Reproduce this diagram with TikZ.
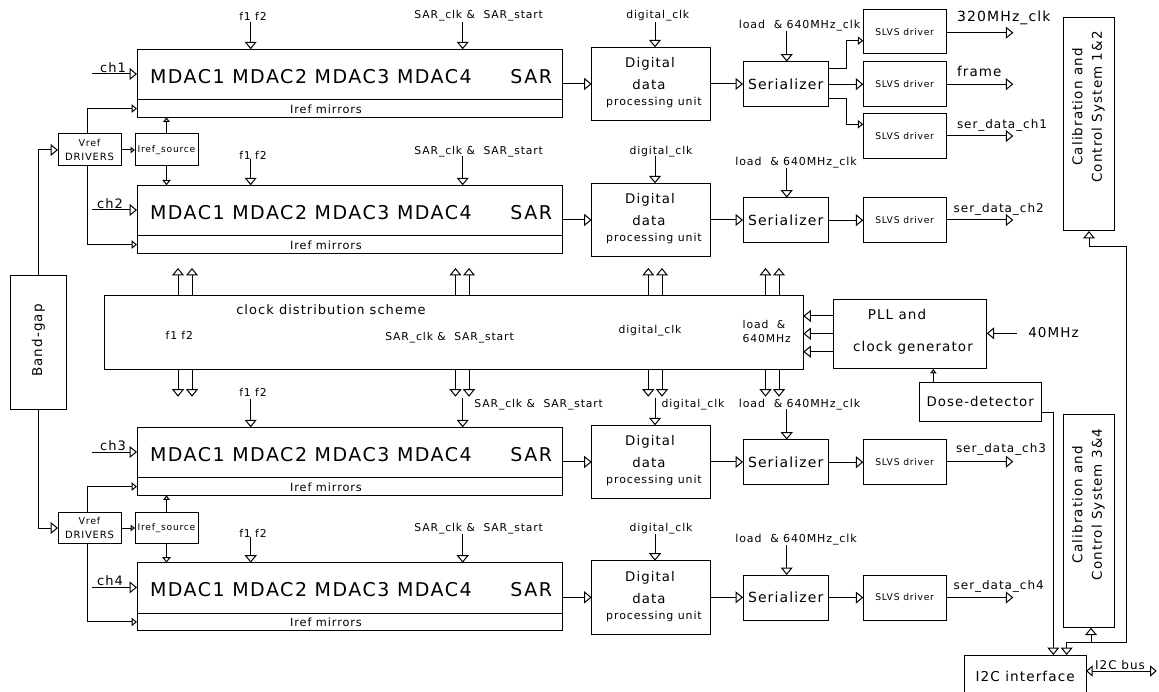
\documentclass[tikz,border=0pt]{standalone}
\usepackage{fontspec}
\setmainfont{DejaVu Sans}[LetterSpace=8]
\usetikzlibrary{arrows.meta}
\newcommand\fs[1]{\fontsize{#1}{#1}\selectfont}
\newcommand\mkbox[6]{\node[box, minimum width={((#4)-(#2))*1pt}, minimum height={((#5)-(#3))*1pt}] (#1) at ({#2},{#3}) {#6};}
\tikzset{
 box/.style={draw, line width=1pt, anchor=north west, inner sep=0pt, outer sep=0pt, align=center},
 ar/.style={line width=1pt, -{Triangle[open, width=12pt, length=7.5pt]}},
 mar/.style={line width=1pt, -{Triangle[open, width=8.5pt, length=5.5pt]}},
 sar/.style={line width=1pt, -{Triangle[open, width=6.5pt, length=4.5pt]}},
 lab/.style={font=\fs{10.8}},
}
% #1 id, #2 top of MDAC, #3 f1 start, #4 SAR start, #5 dig start, #6 load start
\newcommand\adcrow[6]{%
 \mkbox{m#1}{137}{#2}{562}{#2+50.5}{}
 \mkbox{s#1}{137}{#2+50.5}{562}{#2+68}{}
 \mkbox{d#1}{591.7}{#2-2}{710}{#2+71.3}{}
 \mkbox{z#1}{743}{#2+12.3}{828.3}{#2+57.5}{\fs{14}Serializer}
 \node[anchor=base west, font=\fs{19}] (mt#1) at (150,{#2+34}) {MDAC1 MDAC2 MDAC3 MDAC4};
 \node[anchor=base east, font=\fs{19}] (sr#1) at (552,{#2+34}) {SAR};
 \node[font=\fs{11.3}] (it#1) at (326,{#2+59.5}) {Iref mirrors};
 \node[font=\fs{13.3}] (dg#1) at (650,{#2+14.7}) {Digital};
 \node[font=\fs{13.3}] (dd#1) at (649,{#2+35.7}) {data};
 \node[font=\fs{11}] (dp#1) at (654,{#2+53.4}) {processing unit};
 \coordinate (ci#1) at (92,{#2+24.7});
 \draw[ar] (ci#1) -- (ci#1 -| m#1.west);
 \draw[ar] (m#1.east |- d#1.west) -- (d#1.west);
 \draw[ar] (d#1.east) -- (d#1.east -| z#1.west);
 \coordinate (fa#1) at (250.7,#3);
 \draw[ar] (fa#1) -- (fa#1 |- m#1.north);
 \coordinate (sa#1) at (462.7,#4);
 \draw[ar] (sa#1) -- (sa#1 |- m#1.north);
 \coordinate (ga#1) at (655,#5);
 \draw[ar] (ga#1) -- (ga#1 |- d#1.north);
 \coordinate (la#1) at (786.7,#6);
 \draw[ar] (la#1) -- (la#1 |- z#1.north);
}
\begin{document}
\begin{tikzpicture}[x=1pt,y=-1pt, every node/.style={inner sep=0pt, outer sep=0pt}]
\useasboundingbox[fill=white] (0,0) rectangle (1159,692);

\adcrow{1}{49.3}{21.7}{22}{22}{31}
\adcrow{2}{185.3}{159.3}{156}{156}{168}
\adcrow{3}{427.3}{399}{398}{398}{409}
\adcrow{4}{562.7}{536.7}{534}{534}{545}

% channel labels
\node[font=\fs{13}] (ch1) at (113,67.5) {ch1};
\node[font=\fs{13}] (ch2) at (110,203.3) {ch2};
\node[font=\fs{13}] (ch3) at (113,445.3) {ch3};
\node[font=\fs{13}] (ch4) at (110,581) {ch4};

% top labels
\node[lab] at (253,16) {f1 f2};
\node[lab] at (478.7,16) {SAR\_clk \&\ \ SAR\_start};
\node[lab] at (657.8,16) {digital\_clk};
\node[font=\fs{11}] at (799.5,26) {load\ \ \& 640MHz\_clk};

\node[lab] at (253,155) {f1 f2};
\node[lab] at (478.7,151.7) {SAR\_clk \&\ \ SAR\_start};
\node[lab] at (661,151.7) {digital\_clk};
\node[font=\fs{11}] at (796,162.3) {load\ \ \& 640MHz\_clk};

\node[lab] at (253,392.7) {f1 f2};
\node[lab] at (538.7,405) {SAR\_clk \&\ \ SAR\_start};
\node[lab] at (693,405) {digital\_clk};
\node[font=\fs{11}] at (799.5,404.3) {load\ \ \& 640MHz\_clk};

\node[lab] at (253,533.3) {f1 f2};
\node[lab] at (478.7,529) {SAR\_clk \&\ \ SAR\_start};
\node[lab] at (661,529) {digital\_clk};
\node[font=\fs{11}] at (796,540) {load\ \ \& 640MHz\_clk};

% SLVS drivers row 1
\mkbox{va1}{863.3}{9.3}{946}{54}{\fs{9.2}SLVS driver}
\mkbox{vb1}{863.3}{61.7}{946}{106.7}{\fs{9.2}SLVS driver}
\mkbox{vc1}{863.3}{113.3}{946}{158.3}{\fs{9.2}SLVS driver}
\coordinate (j1) at (846,68.3); \coordinate (j1b) at (863.3,40.7);
\coordinate (j2) at (846,99); \coordinate (j2b) at (863.3,124.3);
\draw[mar] (z1.east |- j1) -- (j1) |- (j1b);
\draw[ar] (z1.east) -- (z1.east -| vb1.west);
\draw[mar] (z1.east |- j2) -- (j2) |- (j2b);
\coordinate (oa) at (1013.3,32.7);
\coordinate (ob) at (1013.3,84.2);
\coordinate (oc) at (1013.3,136);
\draw[ar] (va1.east |- oa) -- (oa);
\draw[ar] (vb1.east |- ob) -- (ob);
\draw[ar] (vc1.east |- oc) -- (oc);
\node[font=\fs{14}] at (1003.8,18.3) {320MHz\_clk};
\node[font=\fs{13.5}] at (979.3,71) {frame};
\node[font=\fs{12}] at (1002,125) {ser\_data\_ch1};

% SLVS drivers rows 2-4
\mkbox{v2}{863.3}{197.3}{946}{242.7}{\fs{9.2}SLVS driver}
\mkbox{v3}{863.3}{439}{946}{484.3}{\fs{9.2}SLVS driver}
\mkbox{v4}{863.3}{575}{946}{620}{\fs{9.2}SLVS driver}
\foreach \r in {2,3,4} {
 \draw[ar] (z\r.east) -- (z\r.east -| v\r.west);
 \coordinate (o\r) at ([xshift=67.3pt]v\r.east);
 \draw[ar] (v\r.east) -- (o\r);
}
\node[font=\fs{12}] at (998.7,209) {ser\_data\_ch2};
\node[font=\fs{12}] at (1001,449) {ser\_data\_ch3};
\node[font=\fs{12}] at (998.7,586) {ser\_data\_ch4};

% Vref / Iref blocks
\mkbox{vr1}{58}{134}{121}{166}{\fs{9.5}Vref\\[2pt]DRIVERS}
\mkbox{ir1}{135}{134}{198}{166}{\fs{9.2}Iref\_source}
\mkbox{vr2}{58}{512.3}{121}{543.7}{\fs{9.5}Vref\\[2pt]DRIVERS}
\mkbox{ir2}{135}{512.3}{198}{543.7}{\fs{9.2}Iref\_source}
\mkbox{bg}{10.7}{276}{66.7}{409.3}{}
\node[rotate=90, font=\fs{13.5}] (bgt) at (38.5,340.5) {Band-gap};

\draw[ar] (bg.north) |- (vr1.west);
\draw[ar] (bg.south) |- (vr2.west);
\draw[sar] (vr1.east) -- (ir1.west);
\draw[sar] (vr2.east) -- (ir2.west);
\draw[mar] ([xshift=-2.5pt]vr1.north) |- (s1.west);
\draw[mar] ([xshift=-2.5pt]vr1.south) |- (s2.west);
\draw[mar] ([xshift=-2.5pt]vr2.north) |- (s3.west);
\draw[mar] ([xshift=-2.5pt]vr2.south) |- (s4.west);
\draw[sar] (ir1.north) -- (ir1.north |- s1.south);
\draw[mar] (ir1.south) -- (ir1.south |- m2.north);
\draw[sar] (ir2.north) -- (ir2.north |- s3.south);
\draw[mar] (ir2.south) -- (ir2.south |- m4.north);

% clock distribution
\mkbox{cd}{104}{295.7}{803.3}{370}{}
\node[font=\fs{13}] at (331,310) {clock distribution scheme};
\node[lab] at (179.3,335) {f1 f2};
\node[lab] at (449.5,337.7) {SAR\_clk \&\ \ SAR\_start};
\node[lab] at (650,331) {digital\_clk};
\node[lab, anchor=west] at (742.7,324) {load\ \ \&};
\node[lab, anchor=west] at (742.7,339) {640MHz};
\foreach \xx in {178,192,455.5,469,648.3,662,765.5,779} {
 \draw[ar] (cd.north -| \xx,0) -- (\xx,268);
 \draw[ar] (cd.south -| \xx,0) -- (\xx,396.7);
}

% PLL
\mkbox{pll}{833.3}{299.3}{986.7}{369}{}
\node[font=\fs{13.5}] at (897,314) {PLL and};
\node[font=\fs{13.5}] at (913,347.3) {clock generator};
\foreach \yy in {316,333.7,351.7} {
 \draw[ar] (pll.west |- 0,\yy) -- (cd.east |- 0,\yy);
}
\coordinate (f40) at (1016.7,333.3);
\draw[ar] (f40) -- (f40 -| pll.east);
\node[font=\fs{13.5}] at (1053.5,333) {40MHz};

% Dose detector
\mkbox{dose}{919.3}{382.3}{1041}{421}{\fs{13.3}Dose-detector}
\draw[sar] (dose.north -| 933.3,0) -- (pll.south -| 933.3,0);

% Calibration and I2C
\mkbox{cal12}{1063.3}{17.3}{1114.3}{231}{}
\node[rotate=90, align=center, font=\fs{13.5}] at (1088.5,107) {Calibration and\\[6pt]Control System 1\&2};
\mkbox{cal34}{1063.3}{414}{1114.3}{627.7}{}
\node[rotate=90, align=center, font=\fs{13.5}] at (1088.5,504.5) {Calibration and\\[6pt]Control System 3\&4};
\mkbox{i2c}{964.3}{655}{1086}{697}{\fs{13.6}I2C interface}

\coordinate (dd) at (1053.3,412);
\draw[ar] (dose.east |- dd) -- (dd) -- (dd |- i2c.north);
\coordinate (k1) at (1089,246.7);
\coordinate (k2) at (1126,246.7);
\coordinate (k3) at (1126,642.7);
\coordinate (k4) at (1066.7,642.7);
\coordinate (k5) at (1091,642.7);
\draw[line width=1pt, {Triangle[open,width=12pt,length=7.5pt]}-{Triangle[open,width=12pt,length=7.5pt]}] (k1 |- cal12.south) -- (k1) -- (k2) -- (k3) -- (k4) -- (k4 |- i2c.north);
\draw[ar] (k5) -- (k5 |- cal34.south);
\coordinate (ib) at (1156.7,671);
\draw[line width=1pt, {Triangle[open,width=11pt,length=6.5pt]}-{Triangle[open,width=11pt,length=6.5pt]}] (i2c.east |- ib) -- (ib);
\node[font=\fs{12}] at (1120,665) {I2C bus};
\end{tikzpicture}
\end{document}
